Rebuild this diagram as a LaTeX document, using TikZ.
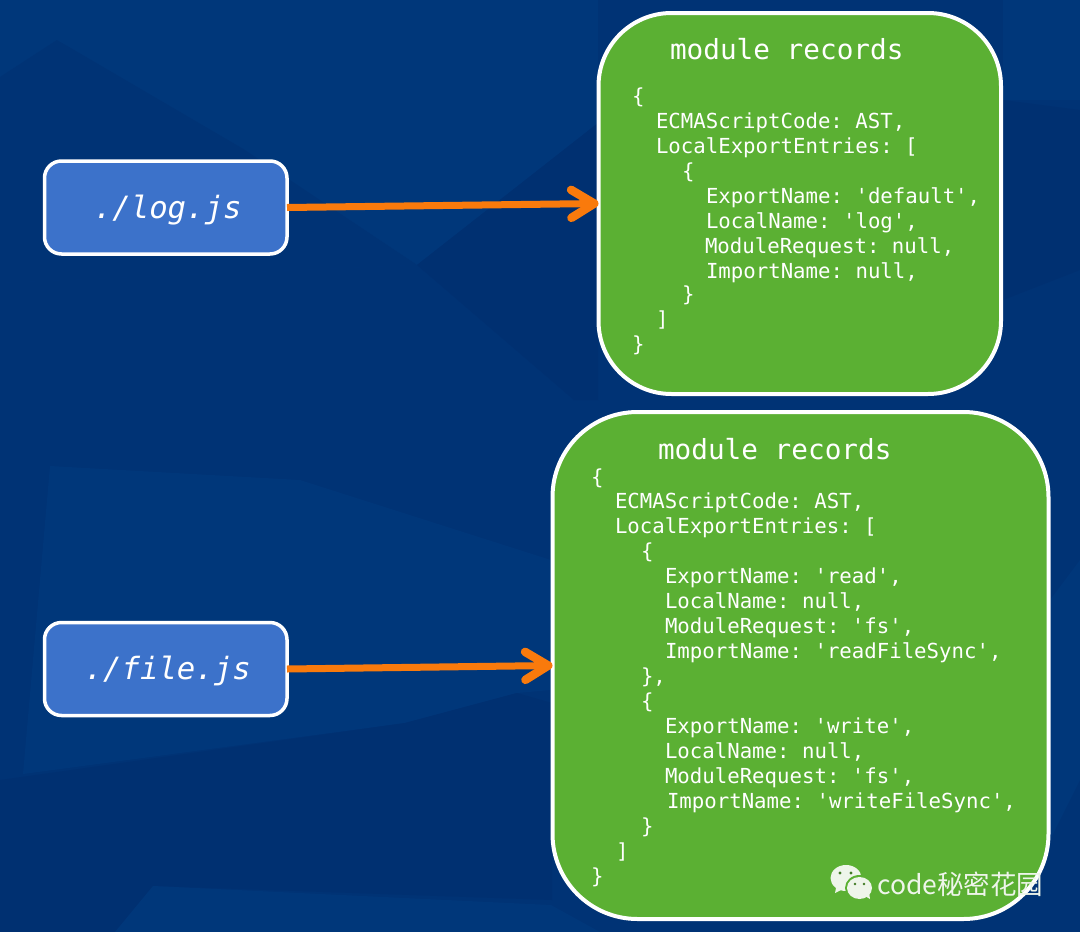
\documentclass[tikz,border=0pt]{standalone}
\usepackage{fontspec}
\setmonofont{DejaVu Sans Mono}
\newfontfamily\wmfont{Noto Sans CJK SC}
\usetikzlibrary{arrows.meta}
\definecolor{bgbase}{HTML}{003375}
\definecolor{bglight}{HTML}{00377A}
\definecolor{bgdark}{HTML}{003071}
\definecolor{recgreen}{HTML}{5BB033}
\definecolor{fileblue}{HTML}{3C72CA}
\definecolor{arroworange}{HTML}{F97A0C}
\definecolor{wmwhite}{HTML}{EEF5EA}
\tikzset{
  x=1pt,y=-1pt,
  recordbox/.style={draw=white,fill=recgreen,line width=4pt,rounded corners=#1,outer sep=0pt,inner sep=0pt},
  filebox/.style={draw=white,fill=fileblue,line width=3.5pt,rounded corners=17pt,minimum width=242.5pt,minimum height=93pt,
    outer sep=0pt,inner sep=0pt,text=white,font=\ttfamily\itshape\fontsize{30.7}{34}\selectfont,text height=25pt,text depth=4pt},
  codetext/.style={anchor=base west,inner sep=0pt,outer sep=0pt,text=white,font=\ttfamily\fontsize{20.7}{25}\selectfont},
  titletext/.style={anchor=base west,inner sep=0pt,outer sep=0pt,text=white,font=\ttfamily\fontsize{27.7}{30}\selectfont},
  flow/.style={draw=arroworange,line width=7pt,-{Straight Barb[length=23pt,width=28pt,round,line width=8.5pt]}},
}
\newcommand{\codeln}[4]{\node[codetext] (#1) at (#2,#3) {#4};}
\begin{document}
\begin{tikzpicture}
\useasboundingbox (0,0) rectangle (1080,932);
% background facets
\fill[bgbase] (0,0) rectangle (1080,932);
\fill[bglight] (0,0) -- (598,0) -- (598,123) -- (417,265) -- (0,283) -- cycle;
\fill[bgbase] (0,77) -- (57,40) -- (245,150) -- (417,265) -- (0,283) -- cycle;
\fill[bglight] (57,40) -- (172,103) -- (226,0) -- (20,0) -- cycle;
\fill[bglight] (50,466) -- (23,774) -- (405,723) -- (517,693) -- (551,690) -- (551,560) -- (300,480) -- cycle;
\fill[bgdark] (405,723) -- (517,693) -- (552,703) -- (552,900) -- (153,886) -- (120,932) -- (0,932) -- (0,780) -- cycle;
\fill[bglight] (153,886) -- (551,905) -- (600,932) -- (115,932) -- cycle;
\fill[bgdark] (417,265) -- (598,123) -- (598,400) -- (574,400) -- cycle;
\fill[bgdark] (1003,100) -- (1080,110) -- (1080,270) -- (1003,300) -- cycle;
\fill[bglight] (1050,600) -- (1080,560) -- (1080,780) -- (1050,840) -- cycle;
\fill[bglight] (1003,0) -- (1080,0) -- (1080,100) -- (1003,100) -- cycle;
% boxes
\node[filebox] (logjs) at (165.75,207.5) {\hspace{4pt}./log.js};
\node[filebox] (filejs) at (165.75,669) {\hspace{4pt}./file.js};
\node[recordbox=73pt,minimum width=402.5pt,minimum height=381pt] (rec1) at (799.75,203.5) {};
\node[recordbox=85pt,minimum width=496pt,minimum height=507pt] (rec2) at (800.5,665.5) {};
% connectors
\draw[flow] (logjs.east) -- (rec1.west);
\draw[flow] (filejs.east) -- (rec2.west);
% first record
\node[titletext] (t1) at (670,59) {module records};
\codeln{a1}{632}{103}{\{}
\codeln{a2}{656}{128}{ECMAScriptCode: AST,}
\codeln{a3}{656}{153}{LocalExportEntries: [}
\codeln{a4}{682}{178}{\{}
\codeln{a5}{706}{203}{ExportName: 'default',}
\codeln{a6}{706}{228}{LocalName: 'log',}
\codeln{a7}{705}{253}{ModuleRequest: null,}
\codeln{a8}{706}{278}{ImportName: null,}
\codeln{a9}{682}{301}{\}}
\codeln{a10}{656}{326}{]}
\codeln{a11}{632}{351}{\}}
% second record
\node[titletext] (t2) at (658,459) {module records};
\codeln{b1}{591}{484}{\{}
\codeln{b2}{615}{508}{ECMAScriptCode: AST,}
\codeln{b3}{615}{533}{LocalExportEntries: [}
\codeln{b4}{641}{558}{\{}
\codeln{b5}{665}{583}{ExportName: 'read',}
\codeln{b6}{665}{608}{LocalName: null,}
\codeln{b7}{665}{633}{ModuleRequest: 'fs',}
\codeln{b8}{665}{658}{ImportName: 'readFileSync',}
\codeln{b9}{641}{683}{\},}
\codeln{b10}{641}{708}{\{}
\codeln{b11}{665}{733}{ExportName: 'write',}
\codeln{b12}{665}{758}{LocalName: null,}
\codeln{b13}{665}{783}{ModuleRequest: 'fs',}
\codeln{b14}{667}{808}{ImportName: 'writeFileSync',}
\codeln{b15}{641}{833}{\}}
\codeln{b16}{616}{858}{]}
\codeln{b17}{591}{883}{\}}
% watermark
\fill[wmwhite] (846,878) ellipse (15.5 and 13);
\fill[wmwhite] (836,888) -- (835,893) -- (843,889) -- cycle;
\fill[recgreen] (859.5,888) ellipse (14.5 and 13);
\fill[wmwhite] (859.5,888) ellipse (12.5 and 11);
\fill[wmwhite] (865,896) -- (870,899) -- (869,892) -- cycle;
\fill[recgreen!70!black] (840,873) circle (1.6) (851,873) circle (1.6) (855,884) circle (1.4) (864,884) circle (1.4);
\node[anchor=base west,inner sep=0pt,text=wmwhite,font=\wmfont\fontsize{26.5}{30}\selectfont] (wm) at (877,894) {code秘密花园};
\end{tikzpicture}
\end{document}
